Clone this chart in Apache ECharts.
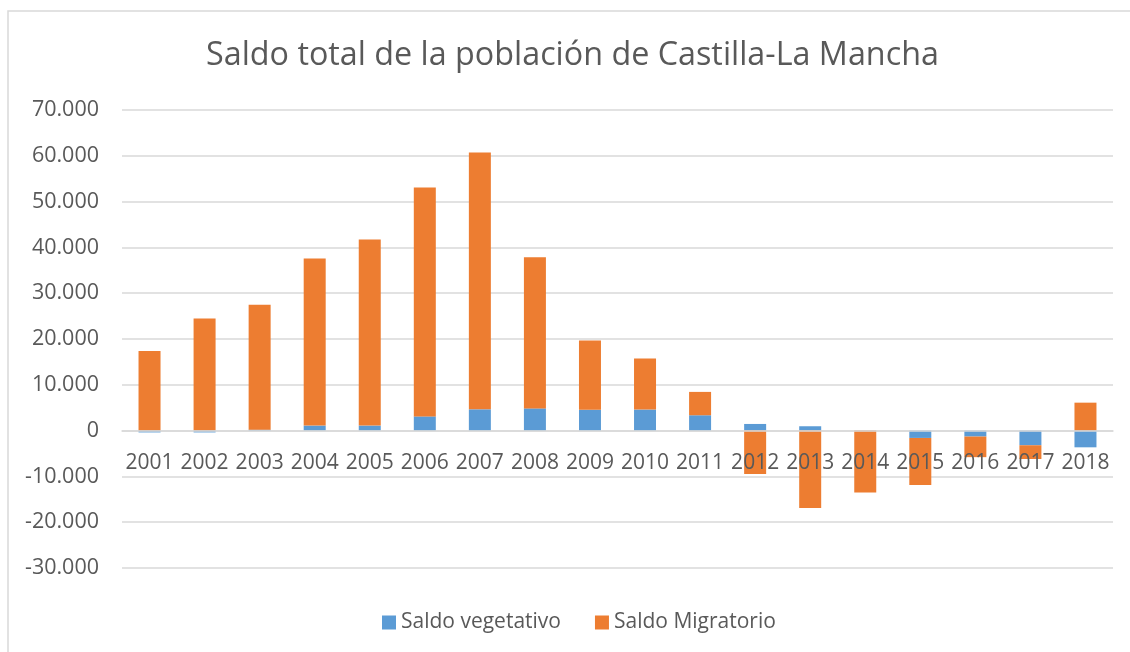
<!DOCTYPE html>
<html>
<head>
<meta charset="utf-8">
<script src="https://cdn.jsdelivr.net/npm/echarts@6/dist/echarts.min.js"></script>
<style>
  html, body { margin: 0; padding: 0; background: #fff; }
  #chart { width: 1130px; height: 652px; }
</style>
</head>
<body>
<div id="chart"></div>
<script>
var years = ['2001', '2002', '2003', '2004', '2005', '2006', '2007', '2008', '2009',
  '2010', '2011', '2012', '2013', '2014', '2015', '2016', '2017', '2018']
// saldo vegetativo (nacimientos - defunciones)
var vegetativo = [-400, -400, 200, 1100, 1100, 3100, 4650, 4850, 4550,
  4600, 3350, 1450, 950, 50, -1600, -1300, -3200, -3650]
// saldo migratorio
var migratorio = [17400, 24500, 27300, 36500, 40600, 50000, 56050, 33000, 15100,
  11150, 5100, -9500, -16900, -13500, -10300, -4500, -3000, 6100]
var yMin = -30000
var yMax = 70000

var textColor = '#595959'
var gridColor = '#d9d9d9'
var font = '"Open Sans", sans-serif'
var gridTop = 110
var gridHeight = 458

// formato con punto de miles: 70.000
function fmt(v) {
  var s = Math.abs(v).toString().replace(/\B(?=(\d{3})+(?!\d))/g, '.')
  return (v < 0 ? '-' : '') + s
}

var chart = echarts.init(document.getElementById('chart'))
chart.setOption({
  animation: false,
  textStyle: { fontFamily: font },
  title: {
    text: 'Saldo total de la población de Castilla-La Mancha',
    left: 201,
    top: 35,
    textStyle: { fontFamily: font, fontSize: 32.3, fontWeight: 'normal', color: textColor }
  },
  graphic: [{
    type: 'rect',
    shape: { x: 8, y: 11, width: 1200, height: 700 },
    style: { fill: 'none', stroke: gridColor, lineWidth: 1.5 },
    silent: true
  }],
  legend: {
    bottom: 14,
    left: 377,
    icon: 'rect',
    itemWidth: 14,
    itemHeight: 14,
    itemGap: 34,
    textStyle: { fontFamily: font, fontSize: 21, color: textColor }
  },
  grid: { left: 122, right: 17, top: gridTop, height: gridHeight, containLabel: false },
  xAxis: {
    type: 'category',
    data: years,
    zlevel: 1,
    // eje de categorías a la altura del cero, por encima de las barras
    offset: -gridHeight * (0 - yMin) / (yMax - yMin),
    axisLine: { onZero: false, lineStyle: { color: gridColor, width: 1.5 } },
    axisTick: { show: false },
    axisLabel: { fontFamily: font, fontSize: 21, color: textColor, margin: 22, interval: 0 }
  },
  yAxis: {
    type: 'value',
    min: yMin,
    max: yMax,
    interval: 10000,
    axisLine: { show: false },
    axisTick: { show: false },
    splitLine: { lineStyle: { color: gridColor, width: 1.5 } },
    axisLabel: {
      fontFamily: font, fontSize: 21.5, color: textColor, margin: 23,
      formatter: fmt
    }
  },
  series: [
    {
      name: 'Saldo vegetativo',
      type: 'bar',
      stack: 'total',
      barWidth: 22,
      itemStyle: { color: '#5b9bd5' },
      data: vegetativo
    },
    {
      name: 'Saldo Migratorio',
      type: 'bar',
      stack: 'total',
      barWidth: 22,
      itemStyle: { color: '#ed7d31' },
      data: migratorio
    }
  ]
})
</script>
</body>
</html>
